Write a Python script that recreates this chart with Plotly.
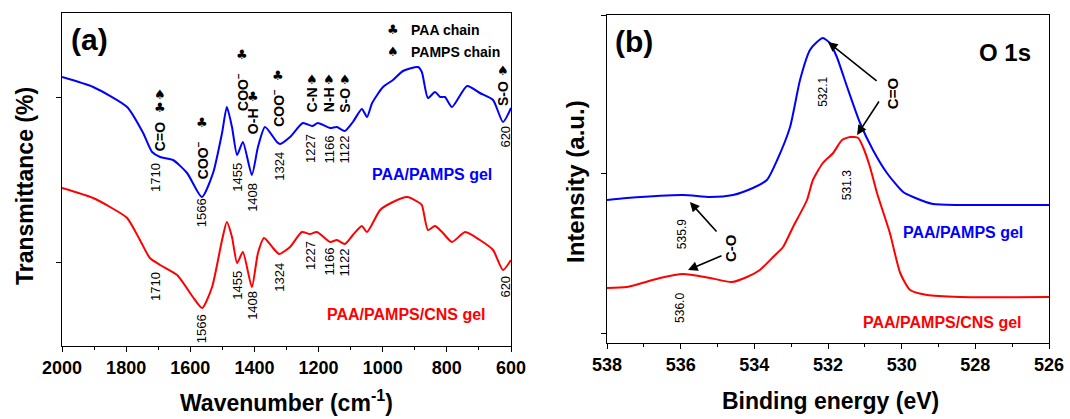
import plotly.graph_objects as go

# ---------------- Panel (a): FTIR ----------------
ftir_wn_blue = [2000, 1903, 1797, 1747, 1719, 1694, 1654, 1610, 1564, 1529, 1501, 1486, 1470, 1454,
                1436, 1408, 1389, 1367, 1330, 1320, 1289, 1249, 1220, 1202, 1164, 1143, 1118, 1093,
                1065, 1049, 1033, 999, 968, 937, 890, 878, 859, 837, 821, 806, 784, 737, 697, 656, 625, 600]
ftir_T_blue = [269, 259, 239, 213, 194, 189, 186, 173, 149, 173, 213, 239, 219, 191,
               204, 171, 199, 219, 204, 202, 209, 223, 220, 223, 218, 219, 215, 224,
               237, 229, 243, 259, 266, 275, 279, 274, 248, 254, 249, 249, 239, 260, 253, 246, 224, 238]

ftir_wn_red = [2000, 1903, 1850, 1797, 1757, 1726, 1694, 1641, 1592, 1563, 1532, 1501, 1486,
               1470, 1454, 1436, 1408, 1389, 1370, 1342, 1323, 1289, 1252, 1227, 1205, 1164, 1143,
               1118, 1093, 1065, 1049, 1008, 968, 924, 890, 878, 859, 837, 815, 784, 743, 697, 656, 625, 600]
ftir_T_red = [158, 148, 139, 128, 106, 88, 81, 71, 49, 38, 59, 106, 124,
              109, 83, 94, 59, 93, 108, 98, 92, 99, 114, 112, 114, 104, 106,
              102, 111, 120, 114, 136, 144, 149, 144, 141, 116, 120, 114, 104, 114, 106, 96, 76, 86]

peak_wn = [1710, 1566, 1455, 1408, 1324, 1227, 1166, 1122, 620]
peak_labels = ["1710", "1566", "1455", "1408", "1324", "1227", "1166", "1122", "620"]
peak_y_blue = [168, 133, 169, 149, 180, 198, 197, 196, 209]
peak_y_red = [59, 17, 61, 41, 69, 91, 85, 83, 59]

# assignment labels: (text, x, y of text, symbols list of (symbol, y))
assign = [
    ("C=O", 1694, 209, [("♣", 238), ("♠", 251)]),
    ("COO<sup>−</sup>", 1563, 186, [("♣", 223)]),
    ("COO<sup>−</sup>", 1439, 254, [("♣", 291)]),
    ("O-H", 1404, 225, [("♣", 249)]),
    ("COO<sup>−</sup>", 1327, 238, [("♣", 270)]),
    ("C-N", 1220, 246, [("♠", 266)]),
    ("N-H", 1167, 246, [("♠", 266)]),
    ("S-O", 1118, 246, [("♠", 266)]),
    ("S-O", 625, 253, [("♠", 275)]),
]

# ---------------- Panel (b): XPS O 1s ----------------
xps_be_blue = [538.0, 537.46, 535.94, 535.20, 534.58, 534.04, 533.66, 533.38, 533.03, 532.76, 532.49,
               532.30, 532.14, 531.95, 531.76, 531.48, 531.13, 530.78, 530.40, 529.96, 529.69, 529.15,
               528.42, 526.0]
xps_I_blue = [143, 145, 148, 146, 148, 155, 163, 183, 216, 263, 293, 301, 305, 300, 286, 256, 220,
              193, 170, 151, 146, 139, 138, 138]

xps_be_red = [538.0, 537.46, 536.56, 535.94, 535.20, 534.61, 534.20, 533.85, 533.49, 533.22, 532.95,
              532.57, 532.41, 532.14, 531.86, 531.62, 531.40, 531.18, 531.05, 530.86, 530.67,
              530.32, 530.04, 529.77, 529.31, 528.42, 526.0]
xps_I_red = [55, 56, 65, 69, 65, 61, 66, 73, 86, 96, 116, 143, 163, 180, 190, 203, 206, 205, 196,
             176, 150, 110, 70, 53, 48, 46, 46]

BLUE = "#0000ff"
RED = "#ff0000"
FONT = "Arial, Liberation Sans, sans-serif"

fig = go.Figure()
fig.add_trace(go.Scatter(x=ftir_wn_blue, y=ftir_T_blue, mode="lines",
                         line=dict(color=BLUE, width=2, shape="spline", smoothing=0.6),
                         xaxis="x", yaxis="y", showlegend=False, hoverinfo="skip"))
fig.add_trace(go.Scatter(x=ftir_wn_red, y=ftir_T_red, mode="lines",
                         line=dict(color=RED, width=2, shape="spline", smoothing=0.6),
                         xaxis="x", yaxis="y", showlegend=False, hoverinfo="skip"))
fig.add_trace(go.Scatter(x=xps_be_blue, y=xps_I_blue, mode="lines",
                         line=dict(color=BLUE, width=2, shape="spline", smoothing=0.6),
                         xaxis="x2", yaxis="y2", showlegend=False, hoverinfo="skip"))
fig.add_trace(go.Scatter(x=xps_be_red, y=xps_I_red, mode="lines",
                         line=dict(color=RED, width=2, shape="spline", smoothing=0.6),
                         xaxis="x2", yaxis="y2", showlegend=False, hoverinfo="skip"))

W, H = 1070, 419
def px(v):
    return v / W
def py(v):
    return 1 - v / H

axis_common = dict(showline=True, linecolor="black", linewidth=1.3, showgrid=False, zeroline=False,
                   ticks="outside", tickcolor="black", tickwidth=1.3, ticklen=5, automargin=False)
mirror_common = dict(showticklabels=False, showline=False, showgrid=False, zeroline=False,
                     ticks="outside", ticklen=5, tickcolor="black", tickwidth=1.3, automargin=False)

fig.update_layout(
    width=W, height=H, margin=dict(l=0, r=0, t=0, b=0, autoexpand=False),
    plot_bgcolor="white", paper_bgcolor="white",
    font=dict(family=FONT, color="black"),
    xaxis=dict(domain=[px(62), px(511)], range=[2000, 600], anchor="y",
               tickvals=[2000, 1800, 1600, 1400, 1200, 1000, 800, 600],
               ticktext=["2000", "1800", "1600", "1400", "1200", "1000", "800", "600"],
               tickfont=dict(size=18, family=FONT, weight="bold"),
               minor=dict(tickvals=[1900, 1700, 1500, 1300, 1100, 900, 700], ticks="outside", ticklen=3,
                          tickcolor="black", tickwidth=1.3),
               mirror=True, **axis_common),
    yaxis=dict(domain=[py(346), py(13)], range=[0, 333], anchor="x",
               tickvals=[84, 249], showticklabels=False,
               mirror=True, **axis_common),
    xaxis2=dict(domain=[px(607), px(1049)], range=[538, 526], anchor="y2",
                tickvals=[538, 536, 534, 532, 530, 528, 526],
                ticktext=["538", "536", "534", "532", "530", "528", "526"],
                tickfont=dict(size=18, family=FONT, weight="bold"),
                minor=dict(tickvals=[537, 535, 533, 531, 529, 527], ticks="outside", ticklen=3,
                           tickcolor="black", tickwidth=1.3),
                mirror=True, **axis_common),
    yaxis2=dict(domain=[py(343), py(15)], range=[0, 328], anchor="x2",
                tickvals=[10, 170, 328], showticklabels=False,
                mirror=True, **axis_common),
    # mirrored tick marks on top/right sides
    xaxis3=dict(overlaying="x", side="top", anchor="y", range=[2000, 600], tickvals=[1300], **mirror_common),
    yaxis3=dict(overlaying="y", side="right", anchor="x", range=[0, 333], tickvals=[167], **mirror_common),
    xaxis4=dict(overlaying="x2", side="top", anchor="y2", range=[538, 526], tickvals=[532], **mirror_common),
    yaxis4=dict(overlaying="y2", side="right", anchor="x2", range=[0, 328], tickvals=[163], **mirror_common),
)

ann = []
# axis titles (placed as paper annotations for exact positioning)
ann += [
    dict(x=px(25), y=py(186), xref="paper", yref="paper", text="Transmittance (%)", showarrow=False,
         textangle=-90, xanchor="center", yanchor="middle",
         font=dict(size=23, family=FONT, weight="bold")),
    dict(x=px(575), y=py(182), xref="paper", yref="paper", text="Intensity (a.u.)", showarrow=False,
         textangle=-90, xanchor="center", yanchor="middle",
         font=dict(size=24, family=FONT, weight="bold")),
    dict(x=px(286), y=py(401), xref="paper", yref="paper", text="Wavenumber (cm<sup>-1</sup>)",
         showarrow=False, xanchor="center", yanchor="middle",
         font=dict(size=23, family=FONT, weight="bold")),
    dict(x=px(830), y=py(401), xref="paper", yref="paper", text="Binding energy (eV)",
         showarrow=False, xanchor="center", yanchor="middle",
         font=dict(size=23, family=FONT, weight="bold")),
]
# peak numbers, panel (a)
for wn, lab, yb, yr in zip(peak_wn, peak_labels, peak_y_blue, peak_y_red):
    for yy in (yb, yr):
        ann.append(dict(x=wn, y=yy, xref="x", yref="y", text=lab, showarrow=False, textangle=-90,
                        font=dict(size=13, family=FONT, color="black")))
# assignments
for text, xx, yy, syms in assign:
    ann.append(dict(x=xx, y=yy, xref="x", yref="y", text=text, showarrow=False, textangle=-90,
                    font=dict(size=14, family=FONT, color="black", weight="bold")))
    for s, sy in syms:
        ann.append(dict(x=xx, y=sy, xref="x", yref="y", text=s, showarrow=False,
                        font=dict(size=13, family="DejaVu Sans", color="black")))

ann += [
    dict(x=1913, y=306, xref="x", yref="y", text="(a)", showarrow=False,
         font=dict(size=30, family=FONT, weight="bold")),
    dict(x=846, y=172, xref="x", yref="y", text="PAA/PAMPS gel", showarrow=False,
         font=dict(size=16, family=FONT, weight="bold", color=BLUE)),
    dict(x=927, y=32, xref="x", yref="y", text="PAA/PAMPS/CNS gel", showarrow=False,
         font=dict(size=16, family=FONT, weight="bold", color=RED)),
    dict(x=968, y=316, xref="x", yref="y", text="♣", showarrow=False,
         font=dict(size=13, family="DejaVu Sans")),
    dict(x=968, y=294, xref="x", yref="y", text="♠", showarrow=False,
         font=dict(size=13, family="DejaVu Sans")),
    dict(x=918, y=316, xref="x", yref="y", text="PAA chain", showarrow=False, xanchor="left",
         font=dict(size=14, family=FONT, weight="bold")),
    dict(x=918, y=294, xref="x", yref="y", text="PAMPS chain", showarrow=False, xanchor="left",
         font=dict(size=14, family=FONT, weight="bold")),
]

# panel (b)
ann += [
    dict(x=537.27, y=301, xref="x2", yref="y2", text="(b)", showarrow=False,
         font=dict(size=30, family=FONT, weight="bold")),
    dict(x=527.19, y=290, xref="x2", yref="y2", text="O 1s", showarrow=False,
         font=dict(size=24, family=FONT, weight="bold")),
    dict(x=532.14, y=251, xref="x2", yref="y2", text="532.1", showarrow=False, textangle=-90,
         font=dict(size=12, family=FONT)),
    dict(x=531.48, y=158, xref="x2", yref="y2", text="531.3", showarrow=False, textangle=-90,
         font=dict(size=12, family=FONT)),
    dict(x=535.96, y=109, xref="x2", yref="y2", text="535.9", showarrow=False, textangle=-90,
         font=dict(size=12, family=FONT)),
    dict(x=536.02, y=35, xref="x2", yref="y2", text="536.0", showarrow=False, textangle=-90,
         font=dict(size=12, family=FONT)),
    dict(x=530.23, y=250, xref="x2", yref="y2", text="C=O", showarrow=False, textangle=-90,
         font=dict(size=15, family=FONT, weight="bold")),
    dict(x=534.66, y=95, xref="x2", yref="y2", text="C-O", showarrow=False, textangle=-90,
         font=dict(size=15, family=FONT, weight="bold")),
    dict(x=528.33, y=111, xref="x2", yref="y2", text="PAA/PAMPS gel", showarrow=False,
         font=dict(size=16, family=FONT, weight="bold", color=BLUE)),
    dict(x=528.88, y=21, xref="x2", yref="y2", text="PAA/PAMPS/CNS gel", showarrow=False,
         font=dict(size=16, family=FONT, weight="bold", color=RED)),
]
arrows = [((532.0, 301), (530.64, 261)), ((531.21, 208), (530.59, 243)),
          ((535.75, 141), (534.99, 110)), ((535.80, 73), (534.85, 88))]
for (hx, hy), (tx, ty) in arrows:
    ann.append(dict(x=hx, y=hy, ax=tx, ay=ty, xref="x2", yref="y2", axref="x2", ayref="y2",
                    text="", showarrow=True, arrowhead=2, arrowsize=1.2, arrowwidth=1.6,
                    arrowcolor="black"))

fig.update_layout(annotations=ann)
fig.write_html("out.html", config={"displayModeBar": False},
               post_script="document.body.style.margin='0px';document.body.style.overflow='hidden';")
